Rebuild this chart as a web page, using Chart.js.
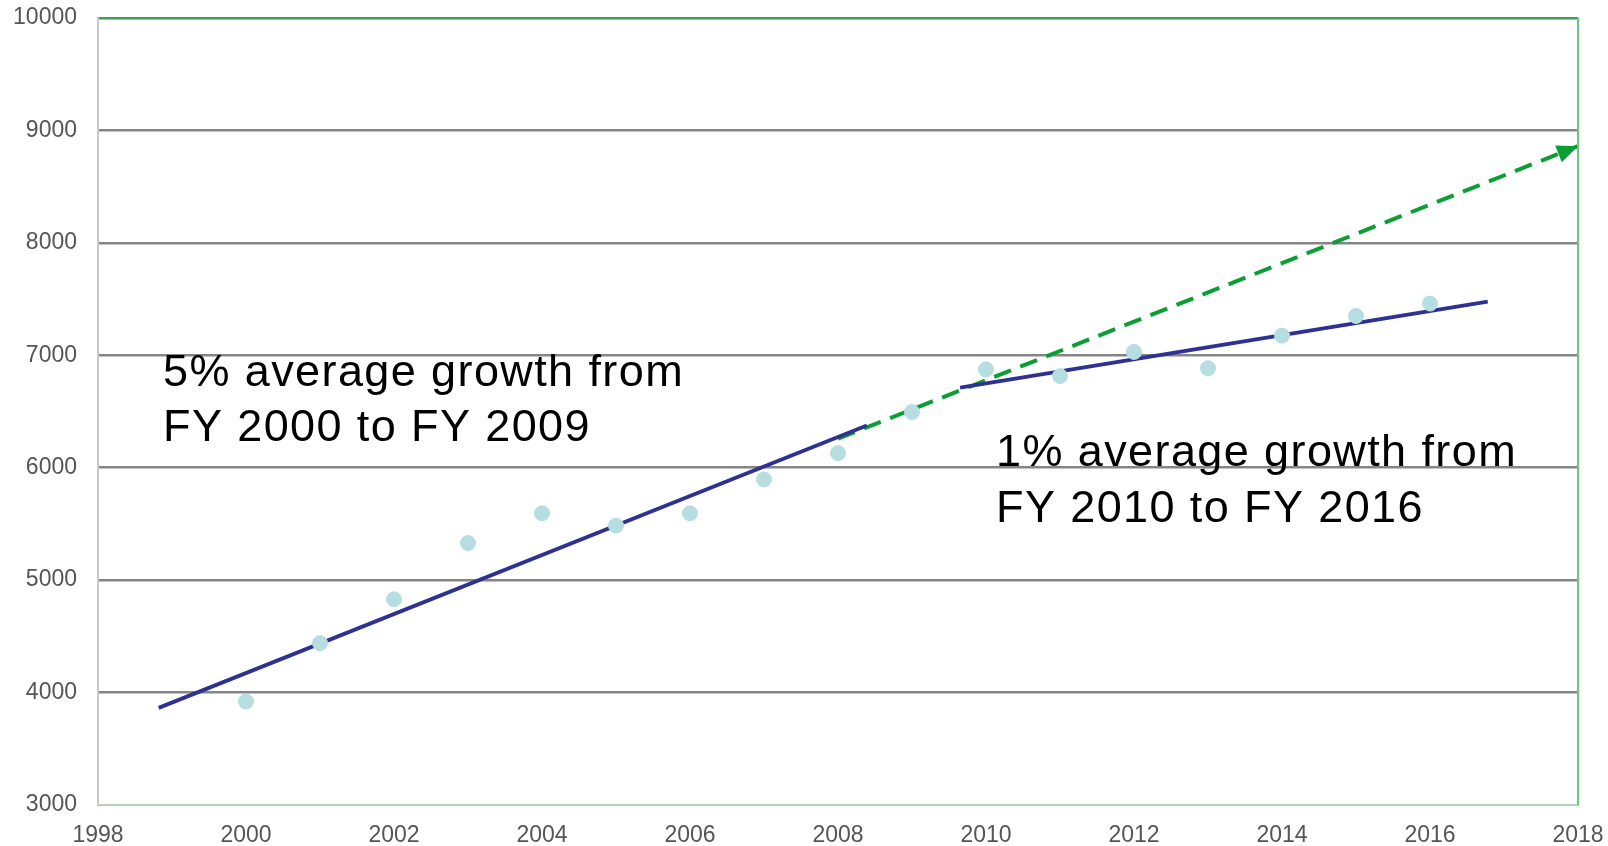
<!DOCTYPE html>
<html>
<head>
<meta charset="utf-8">
<script src="https://cdn.jsdelivr.net/npm/chart.js@4"></script>
<style>
  html, body { margin: 0; padding: 0; background: #fff; }
  #wrap { width: 1608px; height: 846px; }
</style>
</head>
<body>
<div id="wrap"><canvas id="c" width="1608" height="846"></canvas></div>
<script>
// ---- data ----
const years = [2000, 2001, 2002, 2003, 2004, 2005, 2006, 2007, 2008, 2009, 2010, 2011, 2012, 2013, 2014, 2015, 2016];
const values = [3920, 4440, 4830, 5330, 5595, 5485, 5595, 5895, 6130, 6495, 6875, 6815, 7030, 6885, 7175, 7350, 7460];
const trend1X = [1998.82, 2008.39];
const trend1Y = [3864, 6376];
const trend2X = [2009.65, 2016.78];
const trend2Y = [6712, 7477];
const projX = [2008.0, 2018.0];
const projY = [6258, 8860];
const xTicks = [1998, 2000, 2002, 2004, 2006, 2008, 2010, 2012, 2014, 2016, 2018];
const yTicks = [3000, 4000, 5000, 6000, 7000, 8000, 9000, 10000];
const note1 = ["5% average growth from", "FY 2000 to FY 2009"];
const note2 = ["1% average growth from", "FY 2010 to FY 2016"];

const pts = (xs, ys) => xs.map((x, i) => ({ x: x, y: ys[i] }));

const FONT = "'Liberation Sans', Arial, sans-serif";

const extras = {
  id: 'extras',
  afterDraw(chart) {
    const ctx = chart.ctx;
    const a = chart.chartArea;
    const xs = chart.scales.x, ys = chart.scales.y;
    ctx.save();
    // right border
    ctx.strokeStyle = '#6cc77f';
    ctx.lineWidth = 2;
    ctx.beginPath();
    ctx.moveTo(a.right, a.top);
    ctx.lineTo(a.right, a.bottom);
    ctx.stroke();
    // arrow head on projection
    const x0 = xs.getPixelForValue(projX[0]), y0 = ys.getPixelForValue(projY[0]);
    const x1 = xs.getPixelForValue(projX[1]), y1 = ys.getPixelForValue(projY[1]);
    const ang = Math.atan2(y1 - y0, x1 - x0);
    const L = 21, W = 9;
    ctx.fillStyle = '#0a9e34';
    ctx.beginPath();
    ctx.moveTo(x1, y1);
    ctx.lineTo(x1 - L * Math.cos(ang) + W * Math.sin(ang), y1 - L * Math.sin(ang) - W * Math.cos(ang));
    ctx.lineTo(x1 - L * Math.cos(ang) - W * Math.sin(ang), y1 - L * Math.sin(ang) + W * Math.cos(ang));
    ctx.closePath();
    ctx.fill();
    // annotations
    ctx.fillStyle = '#000';
    ctx.font = '45px ' + FONT;
    try { ctx.letterSpacing = '1.4px'; } catch (e) {}
    ctx.textBaseline = 'alphabetic';
    ctx.textAlign = 'left';
    ctx.fillText(note1[0], 163, 386);
    ctx.fillText(note1[1], 163, 441);
    ctx.fillText(note2[0], 996, 466);
    ctx.fillText(note2[1], 996, 522);
    ctx.restore();
  }
};

new Chart(document.getElementById('c'), {
  type: 'scatter',
  data: {
    datasets: [
      {
        label: 'Values',
        data: pts(years, values),
        backgroundColor: '#b6dde0',
        borderColor: '#b6dde0',
        pointRadius: 7.5,
        pointHoverRadius: 7.5,
        showLine: false
      },
      {
        label: 'Trend 2000-2009',
        data: pts(trend1X, trend1Y),
        showLine: true,
        borderColor: '#2e3192',
        borderWidth: 3.8,
        pointRadius: 0,
        fill: false
      },
      {
        label: 'Trend 2010-2016',
        data: pts(trend2X, trend2Y),
        showLine: true,
        borderColor: '#2e3192',
        borderWidth: 3.8,
        pointRadius: 0,
        fill: false
      },
      {
        label: 'Projection',
        data: pts(projX, projY),
        showLine: true,
        borderColor: '#0a9e34',
        borderWidth: 4,
        borderDash: [18, 10],
        pointRadius: 0,
        fill: false
      }
    ]
  },
  options: {
    responsive: false,
    animation: false,
    devicePixelRatio: 1,
    layout: { padding: { top: 18, right: 30, left: 0, bottom: 0 } },
    plugins: { legend: { display: false }, tooltip: { enabled: false } },
    scales: {
      x: {
        type: 'linear',
        min: 1998,
        max: 2018,
        afterBuildTicks(scale) { scale.ticks = xTicks.map(v => ({ value: v })); },
        afterFit(scale) { scale.height = 41; scale.paddingLeft = 0; scale.paddingRight = 0; },
        grid: { display: false, drawTicks: false },
        border: { display: true, color: '#b9cfbe', width: 2 },
        ticks: {
          color: '#555555',
          font: { family: FONT, size: 23 },
          padding: 17,
          maxRotation: 0,
          autoSkip: false,
          callback: v => String(v)
        }
      },
      y: {
        min: 3000,
        max: 10000,
        afterBuildTicks(scale) { scale.ticks = yTicks.map(v => ({ value: v })); },
        afterFit(scale) { scale.width = 98; scale.paddingTop = 0; scale.paddingBottom = 0; },
        grid: {
          drawTicks: false,
          color: c => c.tick && c.tick.value === 10000 ? '#3f9d55' : (c.tick && c.tick.value === 3000 ? 'rgba(0,0,0,0)' : '#858585'),
          lineWidth: 2.5
        },
        border: { display: true, color: '#c8c8c8', width: 2 },
        ticks: {
          color: '#555555',
          font: { family: FONT, size: 23 },
          padding: 21,
          autoSkip: false,
          callback: v => String(v)
        }
      }
    }
  },
  plugins: [extras]
});
</script>
</body>
</html>
